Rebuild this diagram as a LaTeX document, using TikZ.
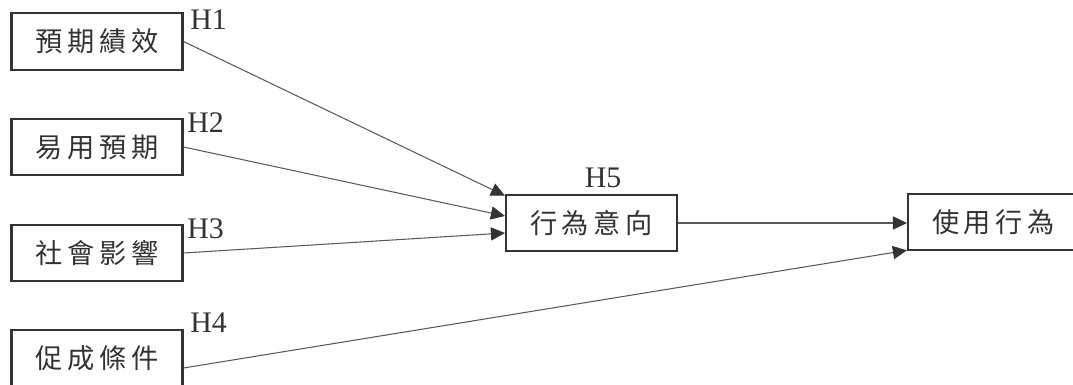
\documentclass[tikz,border=0pt]{standalone}
\usepackage{fontspec}
\usepackage{xcolor}
\setmainfont{Liberation Serif}
\newfontfamily\cjk[LetterSpace=17]{Noto Sans CJK TC}
\usetikzlibrary{arrows.meta, positioning, calc}
\definecolor{boxcolor}{RGB}{51,51,51}
\definecolor{linecolor}{RGB}{90,90,90}

\tikzset{
    factor/.style={draw=boxcolor, line width=1.2pt, minimum width=3.42cm, minimum height=1.13cm,
        inner sep=0pt, text=boxcolor, font=\cjk\fontsize{15.5}{17}\selectfont},
    hyp/.style={anchor=base west, text=boxcolor, inner sep=0pt, font=\fontsize{17}{20}\selectfont},
    link/.style={draw=linecolor, line width=0.6pt,
        -{Triangle[length=8pt,width=7.5pt,color=boxcolor]}}
}

\begin{document}
\begin{tikzpicture}[x=0.02cm, y=-0.02cm]
    \useasboundingbox (0,0) rectangle (1073,385);

    % constructs
    \node[factor] (pe) at (97,41.5) {預期績效};
    \node[factor] (ee) at (97,147) {易用預期};
    \node[factor] (si) at (97,253) {社會影響};
    \node[factor] (fc) at (97,358) {促成條件};
    \node[factor] (bi) at (591.5,223) {行為意向};
    \node[factor] (ub) at (993.5,222) {使用行為};

    % hypotheses
    \node[hyp] (h1) at (190,30) {H1};
    \node[hyp] (h2) at (187,133) {H2};
    \node[hyp] (h3) at (187,238) {H3};
    \node[hyp] (h4) at (190,333) {H4};
    \node[hyp, anchor=base] (h5) at (603,188) {H5};

    % paths
    \draw[link] (pe.east) -- ($(bi.north west)+(0,2)$);
    \draw[link] (ee.east) -- ($(bi.west)+(0,-7)$);
    \draw[link] (si.east) -- ($(bi.west)+(0,10)$);
    \draw[link] (bi.east) -- ($(ub.west)+(0,1)$);
    \draw[link] ($(fc.east)+(0,10)$) -- ($(ub.south west)+(0,-1)$);
\end{tikzpicture}
\end{document}
